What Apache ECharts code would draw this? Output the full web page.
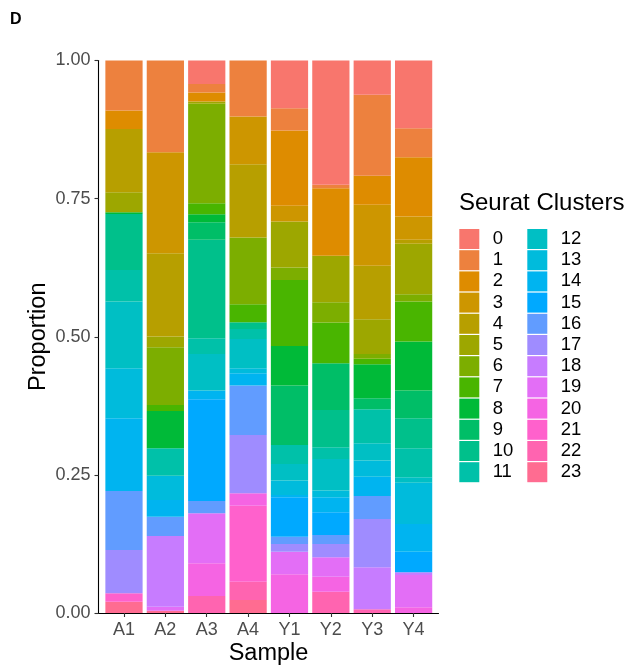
<!DOCTYPE html>
<html>
<head>
<meta charset="utf-8">
<script src="https://cdn.jsdelivr.net/npm/echarts@6/dist/echarts.min.js"></script>
<style>
  html, body { margin: 0; padding: 0; background: #ffffff; }
  #chart { width: 629px; height: 666px; }
</style>
</head>
<body>
<div id="chart"></div>
<script>
// ---- Data ----
const samples = ['A1', 'A2', 'A3', 'A4', 'Y1', 'Y2', 'Y3', 'Y4'];
const clusters = ['0','1','2','3','4','5','6','7','8','9','10','11','12','13','14','15','16','17','18','19','20','21','22','23'];
const yTicks = [0, 0.25, 0.5, 0.75, 1];

// proportions per sample, in cluster order 0..23
const A1 = [0, 0.0905, 0.0335, 0, 0.1143, 0.0362, 0, 0, 0.0035, 0, 0.101, 0.0573, 0.1205, 0.0907, 0.1316, 0, 0.1068, 0.0785, 0, 0, 0, 0.0151, 0, 0.0205];
const A2 = [0, 0.166, 0, 0.1827, 0.151, 0.0193, 0.1044, 0.0109, 0.0675, 0, 0, 0.0496, 0, 0.044, 0.0302, 0, 0.035, 0, 0.128, 0.0074, 0, 0, 0, 0.004];
const A3 = [0.0427, 0.0153, 0.0162, 0, 0, 0.0042, 0.1798, 0.0199, 0.0145, 0.032, 0.178, 0.0284, 0.0665, 0, 0.0156, 0.1841, 0.0223, 0, 0, 0.0905, 0.0592, 0, 0.0308, 0];
const A4 = [0, 0.1014, 0, 0.0862, 0.1329, 0, 0.1206, 0.0326, 0, 0, 0.0121, 0.0181, 0.053, 0.0091, 0.0224, 0, 0.0893, 0.1056, 0, 0, 0.0224, 0.1376, 0.0332, 0.0235];
const Y1 = [0.0862, 0.0405, 0.1364, 0.0284, 0, 0.0833, 0.0223, 0.1195, 0.0718, 0.1074, 0, 0.0344, 0.0302, 0.0259, 0.0042, 0.0713, 0.0133, 0.0139, 0, 0.041, 0.07, 0, 0, 0];
const Y2 = [0.225, 0.006, 0.1226, 0, 0, 0.0838, 0.037, 0.0735, 0, 0.0845, 0.0676, 0.0211, 0.0574, 0.012, 0.0272, 0.0411, 0.0163, 0.0241, 0, 0.0351, 0.0271, 0, 0.0386, 0];
const Y3 = [0.0621, 0.1467, 0.0525, 0.1104, 0.0965, 0.0628, 0.009, 0.0097, 0.0616, 0.0199, 0, 0.0616, 0.0314, 0.029, 0.035, 0, 0.0416, 0.0875, 0.076, 0, 0, 0, 0.0067, 0];
const Y4 = [0.1224, 0.0525, 0.1075, 0.0422, 0.0073, 0.0911, 0.0133, 0.0725, 0.0887, 0.05, 0.0543, 0.0525, 0.0098, 0.0748, 0.0501, 0.0373, 0, 0, 0.0049, 0.0585, 0.0103, 0, 0, 0];

const table = { A1, A2, A3, A4, Y1, Y2, Y3, Y4 };

// ---- ggplot2 default hue palette (hcl, c=100, l=65) ----
function hcl(h, c, l) {
  const WY = 100, Wu = 0.1978398, Wv = 0.4683363;
  const hr = h * Math.PI / 180;
  const U = c * Math.cos(hr), V = c * Math.sin(hr);
  const Y = WY * (l > 7.999592 ? Math.pow((l + 16) / 116, 3) : l / 903.3);
  const u = U / (13 * l) + Wu, v = V / (13 * l) + Wv;
  const X = 9 * Y * u / (4 * v);
  const Z = -X / 3 - 5 * Y + 3 * Y / v;
  const g = t => { t = t / 100; return t > 0.00304 ? 1.055 * Math.pow(t, 1 / 2.4) - 0.055 : 12.92 * t; };
  const r = g(3.240479 * X - 1.537150 * Y - 0.498535 * Z);
  const gg = g(-0.969256 * X + 1.875992 * Y + 0.041556 * Z);
  const b = g(0.055648 * X - 0.204043 * Y + 1.057311 * Z);
  const hx = x => { const n = Math.round(Math.min(1, Math.max(0, x)) * 255); return n.toString(16).padStart(2, '0'); };
  return '#' + hx(r) + hx(gg) + hx(b);
}
const n = clusters.length;
const palette = clusters.map((_, i) => hcl(15 + 360 * i / n, 100, 65));

const FONT = "'Liberation Sans', Arial, sans-serif";

// series: stacked so that cluster 0 is on top, cluster 23 at the bottom
const series = [];
for (let k = n - 1; k >= 0; k--) {
  series.push({
    name: clusters[k],
    type: 'bar',
    stack: 'total',
    xAxisIndex: 0,
    yAxisIndex: 0,
    barCategoryGap: '10%',
    itemStyle: { color: palette[k] },
    emphasis: { disabled: true },
    data: samples.map(s => table[s][k])
  });
}

const legendCommon = {
  orient: 'vertical',
  top: 229,
  padding: 0,
  itemWidth: 20,
  itemHeight: 20,
  itemGap: 1.2,
  icon: 'rect',
  selectedMode: false,
  textStyle: { fontFamily: FONT, fontSize: 18.5, color: '#000000', lineHeight: 20, padding: [0, 0, 0, 8.4] }
};

const TOP = 60.5, BOTTOM = 53;

const chart = echarts.init(document.getElementById('chart'), null, { renderer: 'canvas' });
chart.setOption({
  animation: false,
  backgroundColor: '#ffffff',
  textStyle: { fontFamily: FONT },
  title: [
    { text: 'D', left: 10, top: 12, padding: 0, textStyle: { fontFamily: FONT, fontSize: 16, fontWeight: 'bold', color: '#000000' } },
    { text: 'Seurat Clusters', left: 459, top: 191, padding: 0, textStyle: { fontFamily: FONT, fontSize: 24, fontWeight: 'normal', color: '#000000' } }
  ],
  legend: [
    Object.assign({}, legendCommon, { left: 459.3, data: clusters.slice(0, 12) }),
    Object.assign({}, legendCommon, { left: 527.3, data: clusters.slice(12) })
  ],
  grid: [
    // bars: discrete scale with the categories' band
    { left: 103.3, right: 194.7, top: TOP, bottom: BOTTOM, containLabel: false, outerBoundsMode: 'none' },
    // panel frame: full panel incl. ggplot's discrete expansion
    { left: 98.5, right: 190.5, top: TOP, bottom: BOTTOM, containLabel: false, outerBoundsMode: 'none' }
  ],
  xAxis: [
    {
      type: 'category',
      gridIndex: 0,
      data: samples,
      axisLine: { show: false },
      axisTick: { show: true, alignWithLabel: true, interval: 0, length: 4, lineStyle: { color: '#333333', width: 1.1 } },
      axisLabel: { fontFamily: FONT, fontSize: 18, color: '#4D4D4D', margin: 8, interval: 0 },
      splitLine: { show: false }
    },
    {
      type: 'value',
      gridIndex: 1,
      min: 0,
      max: 1,
      name: 'Sample',
      nameLocation: 'middle',
      nameGap: 29,
      nameMoveOverlap: false,
      nameTextStyle: { fontFamily: FONT, fontSize: 23.5, color: '#000000' },
      axisLine: { show: true, onZero: false, lineStyle: { color: '#000000', width: 1.1 } },
      axisTick: { show: false },
      axisLabel: { show: false },
      splitLine: { show: false }
    }
  ],
  yAxis: [
    {
      type: 'value',
      gridIndex: 0,
      min: 0,
      max: 1,
      show: false
    },
    {
      type: 'value',
      gridIndex: 1,
      min: 0,
      max: 1,
      interval: 0.25,
      name: 'Proportion',
      nameLocation: 'middle',
      nameGap: 48,
      nameMoveOverlap: false,
      nameTextStyle: { fontFamily: FONT, fontSize: 23.5, color: '#000000' },
      axisLine: { show: true, lineStyle: { color: '#000000', width: 1.1 } },
      axisTick: { show: true, length: 4, lineStyle: { color: '#333333', width: 1.1 } },
      axisLabel: {
        fontFamily: FONT, fontSize: 18, color: '#4D4D4D', margin: 8,
        formatter: v => v.toFixed(2)
      },
      splitLine: { show: false }
    }
  ],
  series: series
});
</script>
</body>
</html>
